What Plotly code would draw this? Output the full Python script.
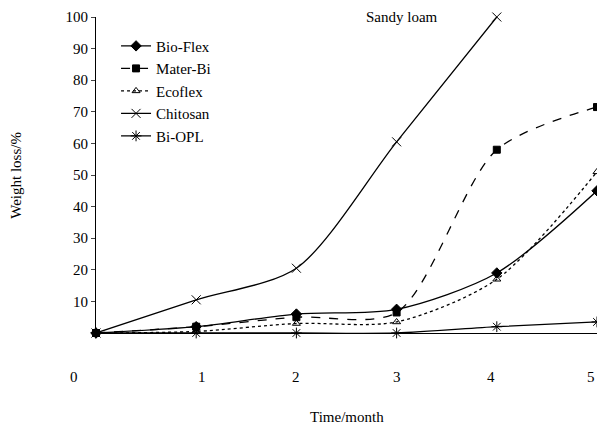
import plotly.graph_objects as go

months = [0, 1, 2, 3, 4, 5]
bioflex = [0, 2, 6, 7.5, 19, 45]
materbi = [0, 2, 5, 6.5, 58, 71.5]
ecoflex = [0, 0.5, 3, 3.5, 17, 51]
chitosan_x = [0, 1, 2, 3, 4]
chitosan = [0, 10.5, 20.5, 60.5, 100]
biopl = [0, 0, 0, 0, 2, 3.5]
yticks = [10, 20, 30, 40, 50, 60, 70, 80, 90, 100]
xticklabels = ["0", "1", "2", "3", "4", "5"]

font = dict(family="Liberation Serif", size=15, color="black")
fig = go.Figure()
def add(name, x, y, dash, sym, size=7):
    fig.add_trace(go.Scatter(x=x, y=y, name=name, mode="lines+markers",
        line=dict(color="black", width=1.3, dash=dash, shape="spline", smoothing=0.8),
        marker=dict(symbol=sym, size=size, color="black", line=dict(color="black", width=1)),
        cliponaxis=False))
add("Bio-Flex", months, bioflex, "solid", "diamond", 8)
add("Mater-Bi", months, materbi, "dash", "square", 7)
add("Ecoflex", months, ecoflex, "dot", "triangle-up-open", 7)
add("Chitosan", chitosan_x, chitosan, "solid", "x-thin-open", 9)
add("Bi-OPL", months, biopl, "solid", "asterisk-open", 9)

for i, t in enumerate(xticklabels):
    xp = months[i] / 5 if i > 0 else -0.056
    fig.add_annotation(x=xp, y=-0.139, text=t, xref="paper", yref="paper",
                       showarrow=False, font=font, yanchor="middle")
fig.add_annotation(x=0.5, y=-0.265, text="Time/month", xref="paper", yref="paper", showarrow=False,
                   font=font, yanchor="middle")
fig.add_annotation(x=-0.18, y=0.5, text="Weight loss/%", xref="paper", yref="paper", showarrow=False,
                   font=font, textangle=-90)
fig.add_annotation(x=3.05, y=100, text="Sandy loam", xref="x", yref="y", showarrow=False,
                   font=font, yanchor="middle")

fig.update_layout(
    width=589, height=417, margin=dict(l=88, r=0, t=9, b=92, autoexpand=False),
    paper_bgcolor="white", plot_bgcolor="white", font=font,
    xaxis=dict(range=[0, 5], showticklabels=False, showgrid=False, zeroline=False,
               showline=True, linecolor="black", linewidth=1),
    yaxis=dict(range=[0, 100], tickvals=yticks, showgrid=False, zeroline=False,
               showline=True, linecolor="black", linewidth=1, ticks="outside", ticklen=4),
    legend=dict(x=0.04, y=0.96, xanchor="left", yanchor="top", bgcolor="rgba(0,0,0,0)",
                font=font, itemwidth=30, tracegroupgap=0),
    showlegend=True,
)
fig.write_html("out.html")
